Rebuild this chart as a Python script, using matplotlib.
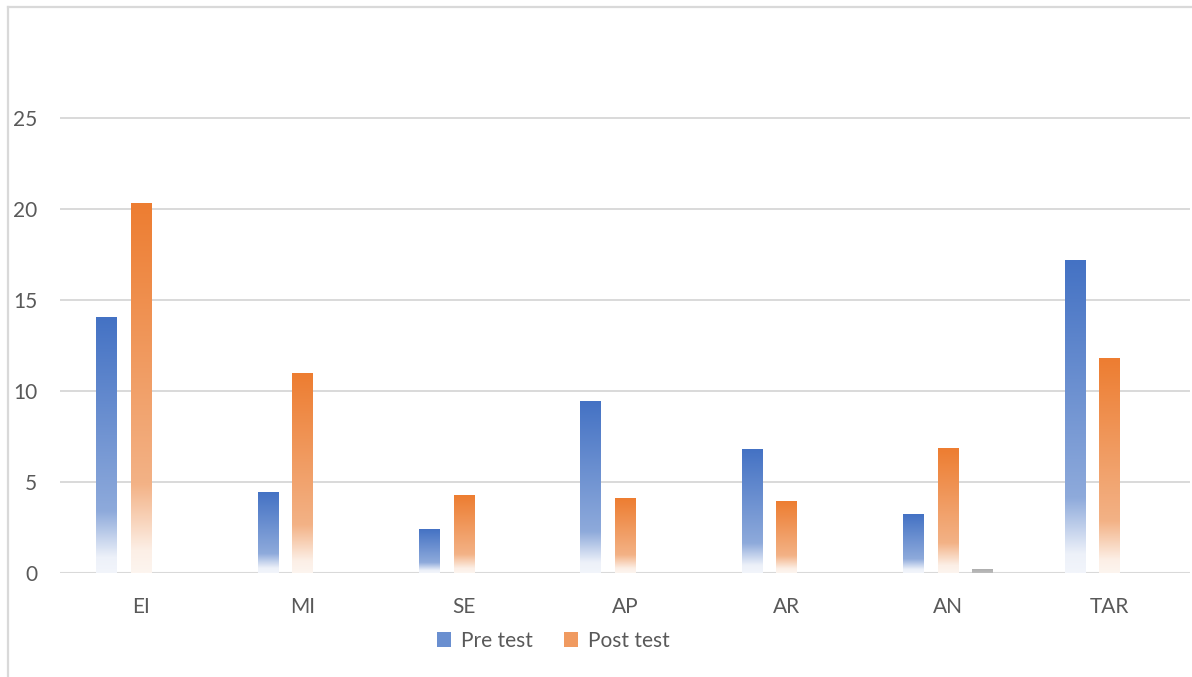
import numpy as np
import matplotlib
matplotlib.use("Agg")
import matplotlib.pyplot as plt
from matplotlib.colors import LinearSegmentedColormap
from matplotlib.patches import Patch
from matplotlib.lines import Line2D

categories = ["EI", "MI", "SE", "AP", "AR", "AN", "TAR"]
pre_test = [14.05, 4.45, 2.4, 9.45, 6.8, 3.2, 17.15]
post_test = [20.3, 10.95, 4.25, 4.1, 3.95, 6.85, 11.8]
series3 = [0, 0, 0, 0, 0, 0.2, 0]
y_ticks = [0, 5, 10, 15, 20, 25]

plt.rcParams['font.family'] = ['Lato', 'DejaVu Sans']

TEXT = '#595959'
GRID = '#d9d9d9'

# vertical fades: pale at the base, full colour at the top
blue_cmap = LinearSegmentedColormap.from_list(
    'pre', [(0, '#f2f5fb'), (0.06, '#edf1f9'), (0.24, '#8eaadb'), (1, '#4472c4')])
orange_cmap = LinearSegmentedColormap.from_list(
    'post', [(0, '#fdf5ef'), (0.06, '#fcefe6'), (0.24, '#f3b286'), (1, '#ed7d31')])
gray_cmap = LinearSegmentedColormap.from_list(
    'other', [(0, '#bcbcbc'), (1, '#aeaeae')])

W, H = 1192, 677
fig = plt.figure(figsize=(W / 100, H / 100), dpi=100)
ax = fig.add_axes([60 / W, 104 / H, 1130 / W, 546 / H])

x = np.arange(len(categories))
width = 0.124
offset = 0.214
grad = np.linspace(0, 1, 256).reshape(-1, 1)


def gradient_bars(ax, xs, values, cmap):
    bars = ax.bar(xs, values, width, color='none', linewidth=0, zorder=3)
    for rect in bars:
        h = rect.get_height()
        if h <= 0:
            continue
        x0 = rect.get_x()
        ax.imshow(grad, cmap=cmap, origin='lower', aspect='auto',
                  extent=[x0, x0 + rect.get_width(), 0, h],
                  interpolation='bilinear', zorder=3)
    return bars


gradient_bars(ax, x - offset, pre_test, blue_cmap)
gradient_bars(ax, x, post_test, orange_cmap)
gradient_bars(ax, x + offset, series3, gray_cmap)

ax.set_xlim(-0.5, len(categories) - 0.5)
ax.set_ylim(0, 30)
ax.set_yticks(y_ticks)
ax.set_xticks(x)
ax.set_xticklabels(categories)
ax.yaxis.grid(True, color=GRID, linewidth=1.4, zorder=0)
ax.set_axisbelow(True)
ax.axhline(0, color=GRID, linewidth=2.2, zorder=2)
for s in ax.spines.values():
    s.set_visible(False)
ax.tick_params(axis='both', length=0, labelsize=15, colors=TEXT)
ax.tick_params(axis='y', pad=16.5)
ax.tick_params(axis='x', pad=17)

handles = [Patch(facecolor='#6a8fd0', edgecolor='none', label='Pre test'),
           Patch(facecolor='#f09a60', edgecolor='none', label='Post test')]
fig.legend(handles=handles, loc='center', bbox_to_anchor=(553 / W, 1 - 641 / H),
           ncol=2, frameon=False, fontsize=15, labelcolor=TEXT,
           handlelength=0.7, handleheight=0.7, handletextpad=0.45,
           columnspacing=1.5)

# chart frame
fig.add_artist(Line2D([8.3 / W, 8.3 / W], [0, 1 - 6.7 / H],
                      transform=fig.transFigure, color=GRID, linewidth=1.6))
fig.add_artist(Line2D([8.3 / W, 1], [1 - 6.7 / H, 1 - 6.7 / H],
                      transform=fig.transFigure, color=GRID, linewidth=1.6))

fig.savefig('out.png', dpi=100)
